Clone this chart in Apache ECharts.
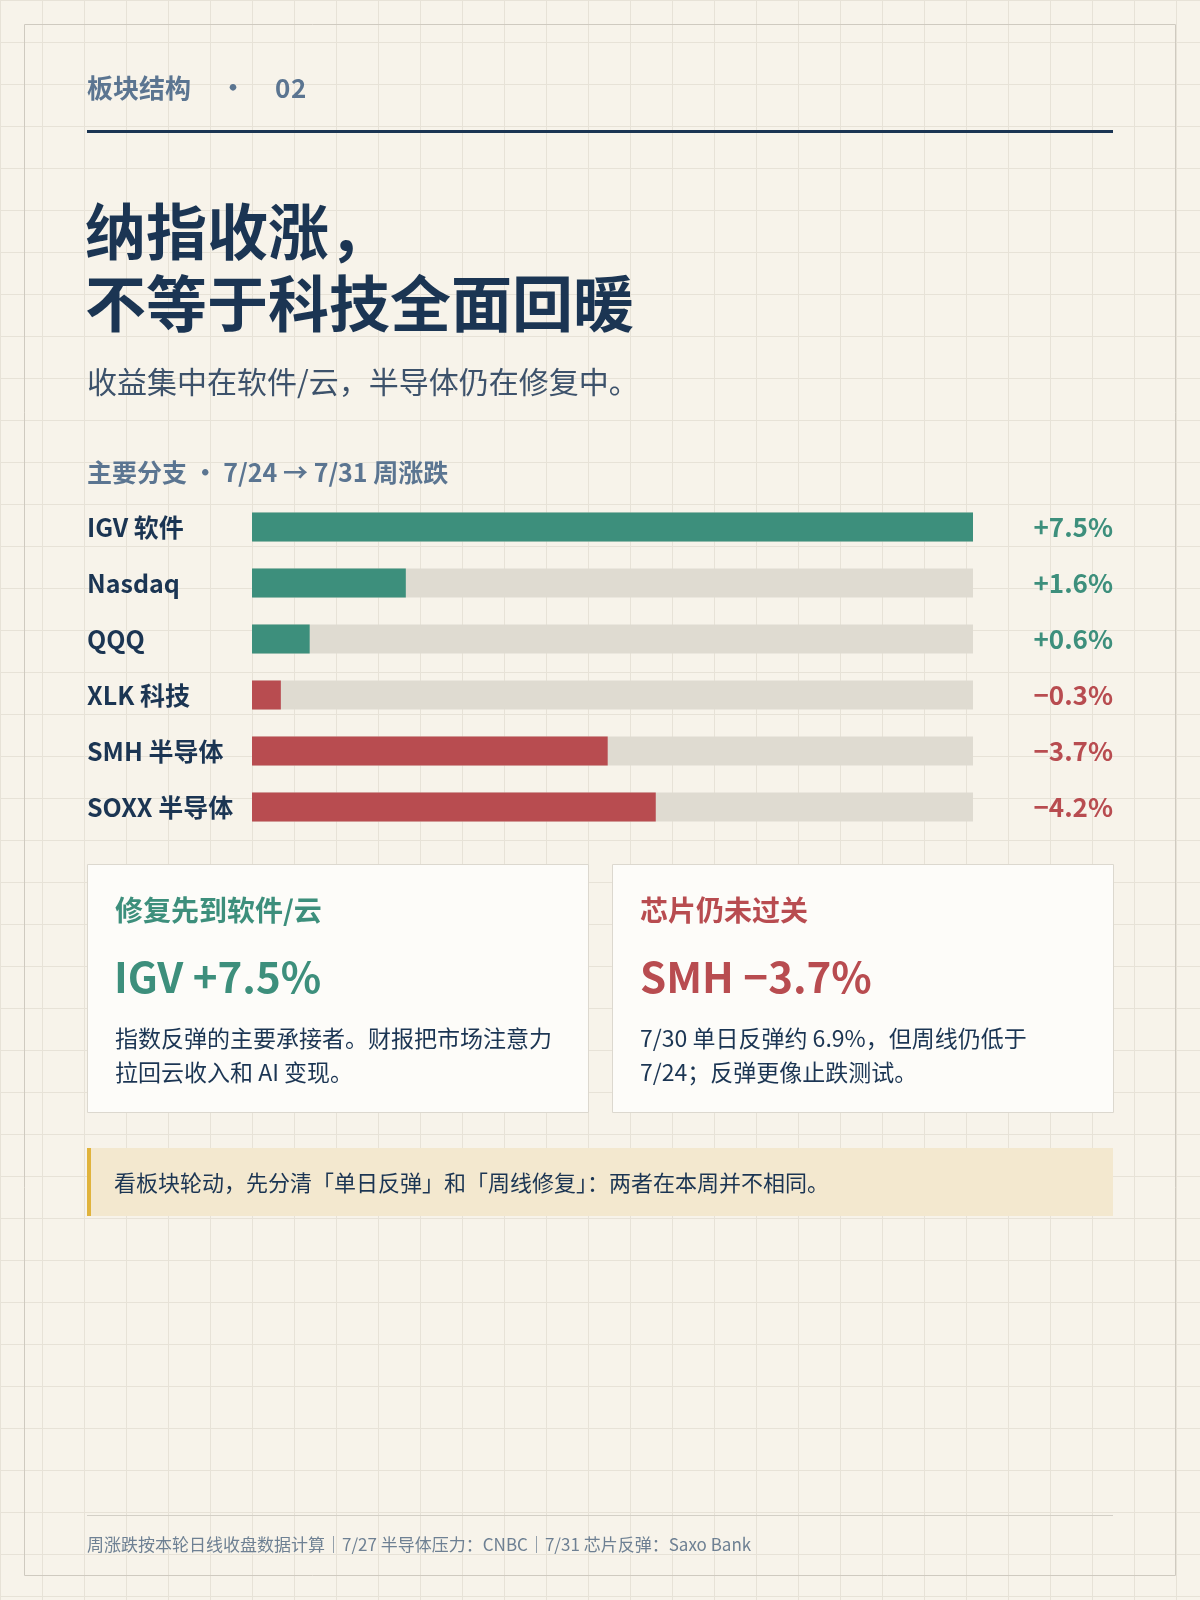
<!DOCTYPE html>
<html lang="zh-CN">
<head>
  <meta charset="UTF-8">
  <title>板块结构 02</title>
  <style>
    html, body { margin: 0; padding: 0; }
    body {
      width: 1200px; height: 1600px;
      background-color: #f7f3ea;
      background-image:
        linear-gradient(to right, #e7e2d7 1px, transparent 1px),
        linear-gradient(to bottom, #e7e2d7 1px, transparent 1px);
      background-size: 42px 42px;
    }
    #main { width: 1200px; height: 1600px; }
  </style>
</head>
<body>
  <div id="main"></div>
  <script src="https://cdn.jsdelivr.net/npm/echarts@6/dist/echarts.min.js"></script>
  <script>
  // 周涨跌 7/24 -> 7/31
  var categories = ['IGV 软件', 'Nasdaq', 'QQQ', 'XLK 科技', 'SMH 半导体', 'SOXX 半导体']
  var changes = [7.5, 1.6, 0.6, -0.3, -3.7, -4.2]
  var scaleMax = 7.5

  var FONT = '"Noto Sans CJK SC", "Noto Sans", sans-serif'
  var NAVY = '#1b3553'
  var SLATE = '#5b7591'
  var GREEN = '#3d8f7c'
  var RED = '#b84c50'

  function fmt(v) {
    return (v >= 0 ? '+' : '\u2212') + Math.abs(v).toFixed(1) + '%'
  }
  var valueLabels = changes.map(fmt)

  function txt(x, y, s, size, color, weight, align) {
    return {
      type: 'text', x: x, y: y, silent: true,
      style: {
        text: s, fill: color, font: (weight || 'normal') + ' ' + size + 'px ' + FONT,
        textAlign: align || 'left', textVerticalAlign: 'middle'
      }
    }
  }
  function box(x, y, w, h, fill, stroke) {
    return {
      type: 'rect', silent: true, shape: { x: x, y: y, width: w, height: h },
      style: { fill: fill, stroke: stroke || null, lineWidth: stroke ? 1 : 0 }
    }
  }

  var graphics = [
    // outer frame
    { type: 'rect', silent: true, shape: { x: 24.5, y: 24.5, width: 1151, height: 1551 },
      style: { fill: null, stroke: '#cfcac0', lineWidth: 1 } },
    txt(87, 88, '板块结构', 26, SLATE, 'bold'),
    txt(233, 87, '·', 26, SLATE, 'bold', 'center'),
    txt(275, 88, '0', 26, SLATE, 'bold'),
    txt(291, 88, '2', 26, SLATE, 'bold'),
    box(87, 130, 1026, 3, NAVY),
    txt(85, 232, '纳指收涨，', 61, NAVY, 'bold'),
    txt(85, 304, '不等于科技全面回暖', 61, NAVY, 'bold'),
    txt(87, 382, '收益集中在软件/云，半导体仍在修复中。', 30, '#3d526b'),
    txt(87, 472, '主要分支 · 7/24 → 7/31 周涨跌', 25, SLATE, 'bold'),

    // cards
    box(87.5, 864.5, 501, 248, '#fdfcf9', '#dcd8cf'),
    txt(115, 910, '修复先到软件/云', 28, GREEN, 'bold'),
    txt(114, 977, 'IGV +7.5%', 42, GREEN, 'bold'),
    txt(115, 1038, '指数反弹的主要承接者。财报把市场注意力', 23, NAVY),
    txt(115, 1072, '拉回云收入和 AI 变现。', 23, NAVY),

    box(612.5, 864.5, 501, 248, '#fdfcf9', '#dcd8cf'),
    txt(640, 910, '芯片仍未过关', 28, RED, 'bold'),
    txt(640, 977, 'SMH \u22123.7%', 42, RED, 'bold'),
    txt(640, 1038, '7/30 单日反弹约 6.9%，但周线仍低于', 23, NAVY),
    txt(640, 1072, '7/24；反弹更像止跌测试。', 23, NAVY),

    // callout
    box(87, 1148, 1026, 68, '#f3e8cf'),
    box(87, 1148, 4, 68, '#e0b33c'),
    txt(114, 1183, '看板块轮动，先分清「单日反弹」和「周线修复」：两者在本周并不相同。', 22, NAVY),

    // footer
    box(87, 1515, 1026, 1, '#d3cfc6'),
    txt(87, 1545, '周涨跌按本轮日线收盘数据计算｜7/27 半导体压力：CNBC｜7/31 芯片反弹：Saxo Bank', 17, '#6e8093')
  ]

  var myChart = echarts.init(document.getElementById('main'), null, { renderer: 'canvas' })
  var option = {
    backgroundColor: 'transparent',
    animation: false,
    textStyle: { fontFamily: FONT },
    grid: { left: 252, right: 227, top: 499, height: 336 },
    xAxis: { type: 'value', min: 0, max: scaleMax, show: false },
    yAxis: [{
      type: 'category', data: categories, inverse: true,
      axisLine: { show: false }, axisTick: { show: false }, splitLine: { show: false },
      axisLabel: { align: 'left', margin: 165, fontSize: 25, fontWeight: 'bold', color: NAVY, fontFamily: FONT }
    }, {
      type: 'category', data: valueLabels, inverse: true, position: 'right',
      axisLine: { show: false }, axisTick: { show: false }, splitLine: { show: false },
      axisLabel: {
        align: 'right', margin: 140, fontSize: 26, fontWeight: 'bold', fontFamily: FONT,
        color: function (v, i) { return changes[i] >= 0 ? GREEN : RED }
      }
    }],
    series: [{
      type: 'bar', barWidth: 29,
      showBackground: true,
      backgroundStyle: { color: '#dfdbd1' },
      data: changes.map(function (v) {
        return { value: Math.abs(v), itemStyle: { color: v >= 0 ? GREEN : RED } }
      })
    }],
    graphic: graphics
  }
  myChart.setOption(option)
  </script>
</body>
</html>
